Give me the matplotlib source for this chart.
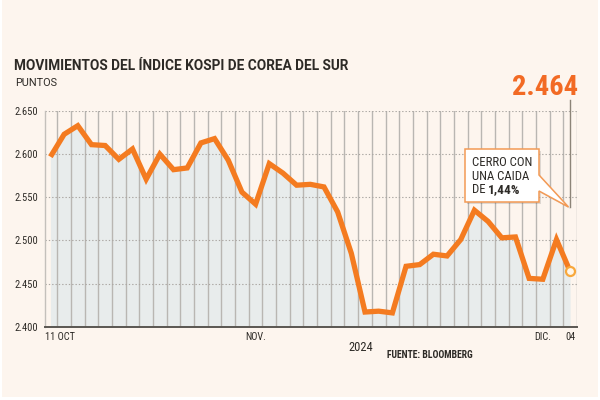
import matplotlib
matplotlib.use("Agg")
import matplotlib.pyplot as plt
from matplotlib.patches import Polygon, Rectangle

# ---------------- data ----------------
kospi = [2597, 2623, 2633, 2611, 2610, 2594, 2606, 2571, 2600, 2582,
         2584, 2613, 2618, 2593, 2556, 2542, 2589, 2578, 2564, 2565,
         2562, 2533, 2485, 2417, 2418, 2416, 2470, 2472, 2484, 2482,
         2501, 2535, 2522, 2503, 2504, 2456, 2455, 2501, 2464]
x_label_pos = [15, 36, 38]
x_label_txt = ["NOV.", "DIC.", "04"]
first_label = "11 OCT"
y_ticks = [2400, 2450, 2500, 2550, 2600, 2650]
y_tick_labels = ["2.400", "2.450", "2.500", "2.550", "2.600", "2.650"]
title = "MOVIMIENTOS DEL ÍNDICE KOSPI DE COREA DEL SUR"
subtitle = "PUNTOS"
year_label = "2024"
source = "FUENTE: BLOOMBERG"
callout_lines = ["CERRO CON", "UNA CAIDA"]
callout_pre = "DE "
callout_pct = "1,44%"

# ---------------- style ----------------
BG = "#fdf5ee"
ORANGE = "#f47b20"
BIG = "#f26a24"
TXT = "#2d2a26"
FILL = "#e8ecec"
FONT = ["Roboto Condensed", "Roboto", "DejaVu Sans"]
WIDE = ["Roboto", "DejaVu Sans"]
plt.rcParams["font.family"] = FONT

W, H = 600, 400
fig = plt.figure(figsize=(6, 4), dpi=100, facecolor="white")
fig.patches.append(Rectangle((2 / W, 3 / H), 596 / W, 1 - 3 / H,
                             transform=fig.transFigure, facecolor=BG,
                             edgecolor="none", zorder=-10))

def fx(px):
    return px / W

def fy(py):
    return 1 - py / H

left, right, top, bottom = 44.7, 577.0, 111.0, 326.7
ax = fig.add_axes([fx(left), fy(bottom), fx(right) - fx(left), (bottom - top) / H])
ax.set_facecolor("none")

n = len(kospi)
xs = list(range(n))
ax.set_xlim(-0.42, n - 0.5)
ax.set_ylim(y_ticks[0], y_ticks[-1])

ax.fill_between(xs, kospi, y_ticks[0], color=FILL, lw=0, zorder=1)
for i in range(n):
    ax.axvline(i + 0.5, color="#b9b6b2", lw=1.0, zorder=2)
for yv in y_ticks[1:]:
    ax.axhline(yv, color="#aaa6a2", lw=0.8, ls=(0, (1.2, 1.8)), zorder=2)
ax.plot(xs, kospi, color=ORANGE, lw=3.8, solid_joinstyle="miter",
        solid_capstyle="butt", zorder=4)
ax.plot([xs[-1]], [kospi[-1]], marker="o", ms=6.5, mfc="#fff6ea",
        mec="#f8a83c", mew=1.6, zorder=5)

# vertical annotation line
ax.plot([xs[-1], xs[-1]], [2539, 2663], color="#8c8478", lw=1.0,
        clip_on=False, zorder=3)

for s in ["top", "right"]:
    ax.spines[s].set_visible(False)
ax.spines["left"].set_color("#c4c0bb")
ax.spines["left"].set_linewidth(1.0)
ax.spines["bottom"].set_color("#5a5651")
ax.spines["bottom"].set_linewidth(1.4)
ax.spines["bottom"].set_zorder(6)

ax.set_yticks(y_ticks)
ax.set_yticklabels(y_tick_labels)
ax.tick_params(axis="y", length=0, pad=5, labelsize=7.6, labelcolor=TXT)
ax.set_xticks([])

xtr = ax.get_xaxis_transform()
ax.annotate(first_label, xy=(ax.get_xlim()[0], 0), xycoords=xtr,
            xytext=(0, -4), textcoords="offset points", ha="left", va="top",
            fontsize=7.4, color=TXT)
for p, t in zip(x_label_pos, x_label_txt):
    ax.annotate(t, xy=(p, 0), xycoords=xtr, xytext=(0, -4),
                textcoords="offset points", ha="center", va="top",
                fontsize=7.4, color=TXT)

# texts
fig.text(fx(14), fy(70), title, fontsize=9.8, fontweight="bold", color=TXT,
         ha="left", va="baseline", family=WIDE)
fig.text(fx(15), fy(85.5), subtitle, fontsize=7.8, color=TXT,
         ha="left", va="baseline", family=WIDE)
big = f"{kospi[-1]:,}".replace(",", ".")
fig.text(fx(578), fy(95), big, fontsize=20.5, fontweight="bold", color=BIG,
         ha="right", va="baseline")
fig.text(fx(360.5), fy(351), year_label, fontsize=9, color=TXT,
         ha="center", va="baseline")
fig.text(fx(386.7), fy(357.5), source, fontsize=7, fontweight="bold",
         color=TXT, ha="left", va="baseline")

# callout
pts = [(465, 149), (539, 149), (539, 175), (568.5, 207), (539, 191),
       (539, 202), (465, 202)]
shadow = Polygon([(fx(a + 2), fy(b + 2)) for a, b in pts], closed=True,
                 transform=fig.transFigure, facecolor="#000000", alpha=0.12,
                 edgecolor="none", zorder=8)
box = Polygon([(fx(a), fy(b)) for a, b in pts], closed=True,
              transform=fig.transFigure, facecolor="white",
              edgecolor="#f39a55", lw=1.1, zorder=9)
fig.patches.extend([shadow, box])
CS = 9.2
fig.text(fx(471.5), fy(166), callout_lines[0], fontsize=CS, color=TXT,
         ha="left", va="baseline", zorder=10)
fig.text(fx(471.5), fy(179.5), callout_lines[1], fontsize=CS, color=TXT,
         ha="left", va="baseline", zorder=10)
t1 = fig.text(fx(471.5), fy(193), callout_pre, fontsize=CS, color=TXT,
              ha="left", va="baseline", zorder=10)
fig.canvas.draw()
bb = t1.get_window_extent()
fig.text(bb.x1 / W, fy(193), callout_pct, fontsize=CS + 0.4, fontweight="bold",
         color=TXT, ha="left", va="baseline", zorder=10)

fig.savefig("out.png", dpi=100, facecolor="white")
